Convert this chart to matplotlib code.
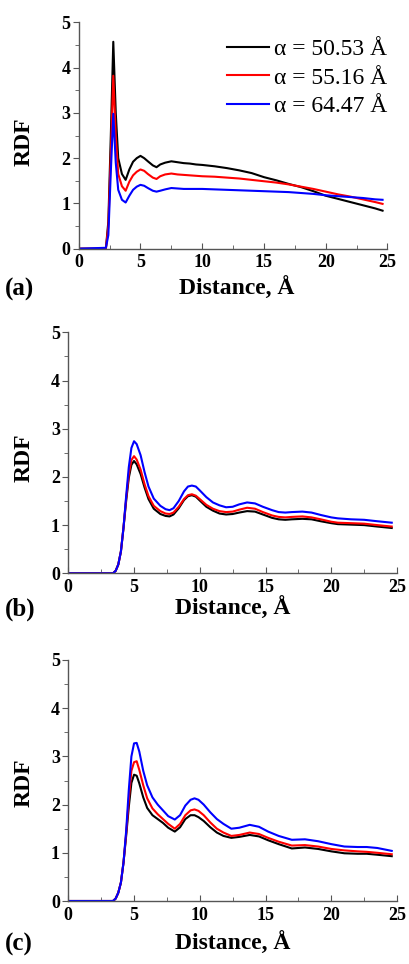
import matplotlib
matplotlib.use("Agg")
import matplotlib.pyplot as plt
from matplotlib.ticker import MultipleLocator

plt.rcParams['font.family'] = ['Liberation Serif', 'DejaVu Serif']

labels = ["\u03b1 = 50.53 \u00c5", "\u03b1 = 55.16 \u00c5", "\u03b1 = 64.47 \u00c5"]
colors = ["black", "red", "blue"]

# panel (a)
xa = [0, 2.2, 2.4, 2.6, 2.8, 3.0, 3.2, 3.5, 3.8, 4.1, 4.4, 4.7, 5.0, 5.3, 5.6, 6.0, 6.3,
      6.6, 7.0, 7.5, 8.0, 8.5, 9.0, 9.5, 10, 11, 12, 13, 14, 15, 16, 17, 18, 19, 20,
      21, 22, 23, 24, 24.6]
a_black = [0, 0, 0.6, 2.5, 4.57, 3.0, 2.0, 1.65, 1.52, 1.75, 1.92, 2.0, 2.05, 2.0, 1.93,
           1.84, 1.80, 1.86, 1.90, 1.93, 1.91, 1.89, 1.88, 1.86, 1.85, 1.82, 1.78, 1.73,
           1.67, 1.58, 1.51, 1.43, 1.36, 1.27, 1.17, 1.10, 1.03, 0.96, 0.89, 0.84]
a_red = [0, 0, 0.5, 2.1, 3.82, 2.5, 1.65, 1.38, 1.28, 1.48, 1.62, 1.70, 1.75, 1.72, 1.65,
         1.57, 1.54, 1.60, 1.64, 1.66, 1.64, 1.63, 1.62, 1.61, 1.60, 1.59, 1.57, 1.55,
         1.52, 1.49, 1.46, 1.42, 1.37, 1.32, 1.26, 1.20, 1.15, 1.09, 1.03, 0.99]
a_blue = [0, 0.02, 0.3, 1.7, 2.98, 1.9, 1.3, 1.08, 1.02, 1.17, 1.30, 1.37, 1.41, 1.39, 1.34,
          1.28, 1.26, 1.28, 1.31, 1.34, 1.33, 1.32, 1.32, 1.32, 1.32, 1.31, 1.30, 1.29,
          1.28, 1.27, 1.26, 1.25, 1.23, 1.21, 1.18, 1.16, 1.14, 1.12, 1.09, 1.08]

# panel (b)
xb = [0, 3.4, 3.6, 3.8, 4.0, 4.2, 4.4, 4.6, 4.8, 5.0, 5.2, 5.5, 5.8, 6.1, 6.5, 7.0, 7.4,
      7.7, 8.0, 8.4, 8.8, 9.1, 9.4, 9.7, 10.0, 10.5, 11.0, 11.5, 12.0, 12.5, 13.0, 13.6,
      14.2, 14.8, 15.5, 16.0, 16.5, 17.0, 17.8, 18.5, 19.2, 20.0, 20.5, 21.5, 22.5, 23.5, 24.6]
b_black = [0, 0, 0.05, 0.18, 0.45, 0.95, 1.5, 1.98, 2.25, 2.33, 2.26, 2.06, 1.78, 1.54, 1.34,
           1.23, 1.19, 1.18, 1.22, 1.35, 1.52, 1.60, 1.62, 1.59, 1.51, 1.38, 1.30, 1.24,
           1.22, 1.23, 1.26, 1.29, 1.28, 1.22, 1.15, 1.12, 1.11, 1.12, 1.13, 1.12, 1.08,
           1.04, 1.02, 1.01, 1.0, 0.97, 0.94]
b_red = [0, 0, 0.05, 0.18, 0.45, 0.95, 1.55, 2.05, 2.35, 2.43, 2.36, 2.15, 1.85, 1.6, 1.4,
         1.29, 1.24, 1.23, 1.26, 1.38, 1.54, 1.62, 1.64, 1.61, 1.54, 1.42, 1.34, 1.29,
         1.27, 1.28, 1.32, 1.36, 1.34, 1.27, 1.20, 1.17, 1.16, 1.17, 1.18, 1.16, 1.12,
         1.07, 1.05, 1.04, 1.03, 1.0, 0.97]
b_blue = [0, 0, 0.05, 0.18, 0.45, 0.95, 1.6, 2.2, 2.6, 2.74, 2.68, 2.45, 2.1, 1.8, 1.55,
          1.4, 1.33, 1.31, 1.35, 1.5, 1.7, 1.8, 1.82, 1.8, 1.72, 1.58, 1.47, 1.41, 1.37,
          1.38, 1.43, 1.47, 1.45, 1.38, 1.31, 1.27, 1.26, 1.27, 1.28, 1.26, 1.21, 1.16,
          1.14, 1.12, 1.11, 1.08, 1.05]

# panel (c)
xc = [0, 3.4, 3.6, 3.8, 4.0, 4.2, 4.4, 4.6, 4.8, 5.0, 5.2, 5.4, 5.7, 6.0, 6.4, 6.8, 7.2,
      7.6, 8.1, 8.5, 8.9, 9.3, 9.6, 9.9, 10.3, 10.8, 11.3, 11.8, 12.4, 13.0, 13.8, 14.5,
      15.2, 16.0, 17.0, 18.0, 19.0, 20.0, 21.0, 22.0, 22.7, 23.5, 24.6]
c_black = [0, 0, 0.05, 0.17, 0.38, 0.8, 1.35, 1.95, 2.45, 2.62, 2.6, 2.44, 2.15, 1.93, 1.78,
           1.7, 1.62, 1.52, 1.44, 1.53, 1.7, 1.78, 1.78, 1.74, 1.66, 1.53, 1.42, 1.35,
           1.31, 1.33, 1.37, 1.34, 1.26, 1.18, 1.09, 1.11, 1.08, 1.03, 0.99, 0.98, 0.98,
           0.96, 0.93]
c_red = [0, 0, 0.05, 0.17, 0.38, 0.8, 1.4, 2.1, 2.7, 2.88, 2.9, 2.72, 2.4, 2.13, 1.92, 1.8,
         1.7, 1.6, 1.5, 1.6, 1.78, 1.88, 1.9, 1.87, 1.78, 1.63, 1.5, 1.42, 1.35, 1.37,
         1.42, 1.39, 1.31, 1.23, 1.15, 1.16, 1.13, 1.08, 1.05, 1.03, 1.02, 1.0, 0.97]
c_blue = [0, 0, 0.05, 0.17, 0.38, 0.8, 1.45, 2.3, 3.0, 3.27, 3.28, 3.1, 2.7, 2.4, 2.15, 2.0,
          1.88, 1.76, 1.69, 1.78, 1.98, 2.1, 2.13, 2.1, 2.0, 1.84, 1.7, 1.6, 1.5, 1.52,
          1.58, 1.54, 1.44, 1.35, 1.27, 1.28, 1.24, 1.18, 1.13, 1.12, 1.12, 1.1, 1.04]

panels = [
    ("(a)", xa, [a_black, a_red, a_blue]),
    ("(b)", xb, [b_black, b_red, b_blue]),
    ("(c)", xc, [c_black, c_red, c_blue]),
]

W, H = 410, 964
# axes boxes in pixels: left, top, right, bottom
boxes = [(78.7, 22.3, 387.5, 248.7), (68.3, 332.3, 397, 573.3), (68.3, 660, 397, 901)]
letter_y = [289, 609, 944]
xlab_cx = [237, 233, 233]
ylab_cy = [142, 458, 783]

fig = plt.figure(figsize=(W / 100, H / 100), dpi=100)

for i, (tag, x, ys) in enumerate(panels):
    l, t, r, b = boxes[i]
    ax = fig.add_axes([l / W, 1 - b / H, (r - l) / W, (b - t) / H])
    for y, c, lab in zip(ys, colors, labels):
        ax.plot(x, y, color=c, lw=1.5, label=lab)
    ax.set_xlim(0, 25)
    ax.set_ylim(0, 5)
    ax.xaxis.set_major_locator(MultipleLocator(5))
    ax.xaxis.set_minor_locator(MultipleLocator(2.5))
    ax.yaxis.set_major_locator(MultipleLocator(1))
    ax.yaxis.set_minor_locator(MultipleLocator(0.5))
    for s in ["top", "right"]:
        ax.spines[s].set_visible(False)
    for s in ["left", "bottom"]:
        ax.spines[s].set_color("#555555")
        ax.spines[s].set_linewidth(1.0)
    ax.tick_params(axis="x", which="major", direction="in", length=4, color="#555555",
                   labelsize=13, pad=4)
    ax.tick_params(axis="x", which="minor", direction="in", length=3, color="#555555")
    ax.tick_params(axis="y", which="major", direction="out", length=4, color="#555555",
                   labelsize=13, pad=2)
    ax.tick_params(axis="y", which="minor", direction="out", length=3, color="#555555")
    for lbl in ax.get_xticklabels() + ax.get_yticklabels():
        lbl.set_fontweight("bold")

    ax.set_xlabel("Distance, \u00c5", fontsize=17, fontweight="bold")
    ax.set_ylabel("RDF", fontsize=17, fontweight="bold")
    ax.xaxis.set_label_coords((xlab_cx[i] - l) / (r - l), (b - (letter_y[i] - 12)) / (b - t))
    ax.yaxis.set_label_coords((35 - l) / (r - l), (b - ylab_cy[i]) / (b - t))
    ax.yaxis.label.set_va("bottom")

    fig.text(5 / W, 1 - letter_y[i] / H, tag, fontsize=18, fontweight="bold", va="center",
             ha="left")

    if i == 0:
        ax.legend(loc="upper right", bbox_to_anchor=(1.03, 0.97), frameon=False,
                  fontsize=17, handlelength=1.8, handletextpad=0.2, labelspacing=0.3,
                  borderaxespad=0)

fig.savefig("out.png", dpi=100)
